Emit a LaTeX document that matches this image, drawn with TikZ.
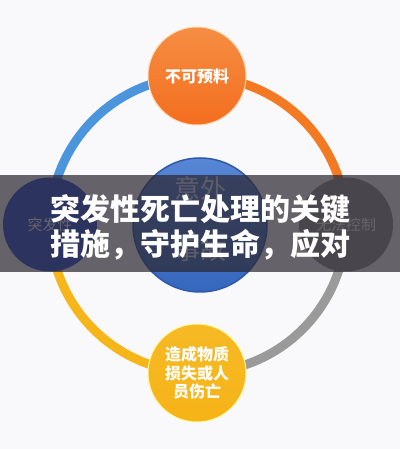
\documentclass[tikz,border=0pt]{standalone}
\usepackage{fontspec}
\newfontfamily\cjk{Noto Sans CJK SC}
\usetikzlibrary{shapes.geometric}
\definecolor{bgc}{HTML}{F9F9FB}
\definecolor{arcblue}{HTML}{4A95DC}
\definecolor{arcorange}{HTML}{F37A22}
\definecolor{arcyellow}{HTML}{F6B619}
\definecolor{arcgray}{HTML}{9A9A9A}
\definecolor{bannerc}{HTML}{2D2832}
\definecolor{ctop}{HTML}{5686D4}
\definecolor{cbot}{HTML}{3567BE}
\definecolor{crim}{HTML}{2E5AA8}
\tikzset{
  x=1pt,y=1pt,
  ringarc/.style={line width=9pt},
  bubble/.style={circle, minimum size=98pt, inner sep=0pt, align=center, text=white,
    font=\cjk\bfseries\fontsize{16}{18.5}\selectfont},
  sidebubble/.style={circle, minimum size=94pt, inner sep=0pt, align=center, text=white,
    font=\cjk\fontsize{15}{17}\selectfont},
  bannertext/.style={text=white, font=\cjk\bfseries\fontsize{30}{36}\selectfont, inner sep=0pt},
  centertext/.style={text=white!80!ctop, font=\cjk\fontsize{26}{30}\selectfont, inner sep=0pt}
}
\begin{document}
\begin{tikzpicture}
\fill[bgc] (0,0) rectangle (400,449);
\useasboundingbox (0,0) rectangle (400,449);
\coordinate (c) at (198,224.5);
% ring arcs
\draw[ringarc, arcorange] ([shift={(0:148)}]c) arc[start angle=0, end angle=90, radius=148];
\draw[ringarc, arcblue] ([shift={(90:148)}]c) arc[start angle=90, end angle=180, radius=148];
\draw[ringarc, arcyellow] ([shift={(180:148)}]c) arc[start angle=180, end angle=270, radius=148];
\draw[ringarc, arcgray] ([shift={(270:148)}]c) arc[start angle=270, end angle=360, radius=148];
% bubbles
\node[bubble, top color=arcorange!85!white, bottom color=arcorange!90!red, draw=orange!30!white, line width=1pt] (top) at (197,373) {不可预料};
\node[bubble, top color=arcyellow!95!white, bottom color=arcyellow!95!orange, draw=yellow!40!white, line width=1pt] (bottom) at (197,76) {造成物质\\损失或人\\员伤亡};
\node[sidebubble, fill=arcblue!60!blue!90!black] (left) at (50,224.5) {突发性};
\node[sidebubble, fill=arcgray!95!black] (right) at (346,224.5) {无法控制};
\node[circle, minimum size=134pt, inner sep=0pt, top color=ctop, bottom color=cbot, draw=crim, line width=1.5pt] (center) at (200,224) {};
\node[centertext] (ct1) at (200,261) {意外};
\node[centertext] (ct2) at (200,199) {事故};
% banner
\fill[bannerc, fill opacity=0.72] (0,177) rectangle (400,274);
\node[bannertext] (l1) at (200,240) {突发性死亡处理的关键};
\node[bannertext] (l2) at (200,204) {措施，守护生命，应对};
\end{tikzpicture}
\end{document}
